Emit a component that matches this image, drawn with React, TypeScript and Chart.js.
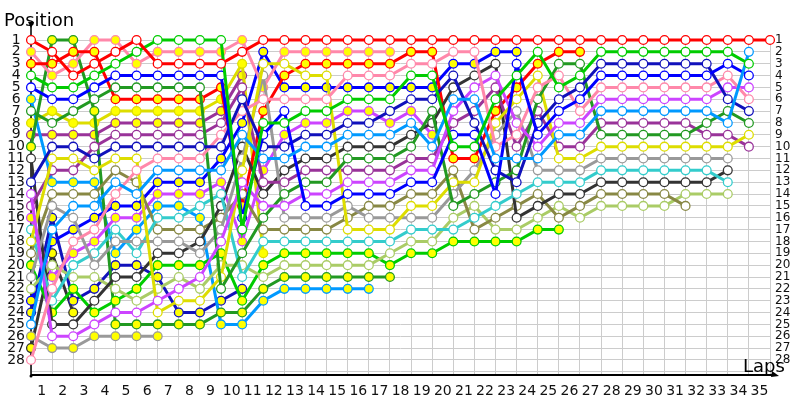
import React, { useEffect, useRef } from 'react';
import { Chart, registerables } from 'chart.js';

Chart.register(...registerables);

// Tick labels
const lapLabels = ['0','1','2','3','4','5','6','7','8','9','10','11','12','13','14','15','16','17','18','19','20','21','22','23','24','25','26','27','28','29','30','31','32','33','34','35'];
const positionTicks = [1,2,3,4,5,6,7,8,9,10,11,12,13,14,15,16,17,18,19,20,21,22,23,24,25,26,27,28];

// Position per lap (index = lap, from lap 0 = grid)
const redWhite = [1,2,4,3,2,1,3,3,3,3,2,1,1,1,1,1,1,1,1,1,1,1,1,1,1,1,1,1,1,1,1,1,1,1,1,1];
const pinkYellow = [2,4,3,1,1,3,2,2,2,2,1,5,2,2,2,2,2,2];
const redYellow = [3,3,2,2,6,6,6,6,6,5,15,7,4,3,3,3,3,3,2,2,11,11,7,5,3,2,2];
const greenWhite = [4,5,5,4,3,2,1,1,1,1,17,8,8,7,7,6,6,6,4,4,10,10,6,4,2,5,4,2,2,2,2,2,2,2,3];
const blueWhite = [5,6,6,5,4,4,4,4,4,4,16,9,7,15,15,14,14,14,13,13,9,9,14,3,9,7,6,4,4,4,4,4,4,3,4];
const darkGreenWhite = [7,8,7,6,5,5,5,5,5,22,19,16,14,13,13,11,11,11,10,7,15,14,13,12,6,3,3,9,9,9,9,9,8,7,8];
const darkBlueWhite = [13,10,10,11,10,10,10,10,10,10,6,10,10,9,9,8,8,7,6,6,4,8,12,13,8,6,5,3,3,3,3,3,3,6,7];
const purpleYellow = [9,9,9,9,8,8,8,8,8,7,4];
const purpleWhite = [15,12,12,10,9,9,9,9,9,8,5,13,13,12,12,12,12,12,11,11,8,7,5,10,7,10,10,8,8,8,8,8,9,9,10];
const violetWhite = [14,26,26,25,24,24,23,22,21,18,13,15,15,14,14,13,13,13,12,12,7,5,4,8,10,8,8,6,6,6,6,6,6,5,5];
const violetYellow = [16,21,19,18,16,16,14,14,14,13,18,12,9,8,8,7,7,8,7,9];
const lightBlueWhite = [25,17,15,15,13,14,12,12,12,12,9,11,11,10,10,9,9,9,8,10,6,6,11,11,11,9,9,7,7,7,7,7,7,8,2];
const lightBlueYellow = [6,13,13,13,19,17,15,15,16,25,25,23,22,22,22,22,22];
const pinkWhite = [28,22,18,17,14,12,11,11,11,9,7,6,6,6,6,4,4,4,3,3,2,2,10,9,5,4,7,5,5,5,5,5,5,4,6];
const yellowYellow = [8,7,8,8,7,7,7,7,7,6,3,19];
const yellowWhite = [18,11,11,12,11,11,24,23,23,21,12,3,3,4,4,17,17,17,15,15,13,13,8,6,4,11,11,10,10,10,10,10,10,10,9];
const blackWhite = [11,25,25,23,21,21,19,19,18,15,10,14,12,11,11,10,10,10,9,8,5,4,3,16,15,14,14,13,13,13,13,13,13,12];
const cyanWhite = [17,23,20,19,17,19,16,16,15,14,21,18,18,18,18,18,18,18,17,17,17,16,15,14,13,13,13,12,12,12,12,12,12,13];
const oliveWhite = [19,14,14,14,12,13,17,17,17,16,14,17,17,17,17,16,15,15,14,14,12,17,16,15,14,16,15,14,14,14,14,15];
const grayWhite = [21,15,16,20,18,18,18,18,19,17,11,4,16,16,16,15,16,16,16,16,14,12,9,7,12,12,12,11,11,11,11,11,11,11];
const greenYellow = [20,24,22,24,23,22,20,20,20,19,23,20,19,19,19,19,19,20,19,19,18,18,18,18,17,17];
const lightGreenWhite = [22,20,21,21,22,23,22,21,22,20,20,21,20,20,20,20,20,19,18,18,16,15,17,17,16,15,16,15,15,15,15,14,14,14];
const darkGreenYellow = [10,1,1,7,25,25,25,25,25,24,24,22,21,21,21,21,21,21];
const darkBlueYellow = [24,16,23,22,20,20,21,24,24,23,22];
const blueYellow = [23,18,17,16,15,15,13,13,13,11,8,2,5,5,5,5,5,5,5,5,3,3,2,2];
const grayYellow = [26,27,27,26,26,26,26];
const blackYellow = [27,19,24];

const RED = '#ff0000';
const PINK = '#ff88aa';
const GREEN = '#00cc00';
const DKGREEN = '#229922';
const BLUE = '#0000ff';
const DKBLUE = '#1111bb';
const YELLOW = '#dddd00';
const PURPLE = '#993399';
const VIOLET = '#cc44ff';
const LTBLUE = '#0099ff';
const CYAN = '#33cccc';
const GRAY = '#999999';
const BLACK = '#333333';
const OLIVE = '#888844';
const LTGREEN = '#aacc66';
const FILL_W = '#ffffff';
const FILL_Y = '#ffff00';

const series: [number[], string, string][] = [
  [redWhite, RED, FILL_W],
  [greenWhite, GREEN, FILL_W],
  [lightBlueWhite, LTBLUE, FILL_W],
  [blueWhite, BLUE, FILL_W],
  [darkBlueWhite, DKBLUE, FILL_W],
  [pinkWhite, PINK, FILL_W],
  [violetWhite, VIOLET, FILL_W],
  [darkGreenWhite, DKGREEN, FILL_W],
  [yellowWhite, YELLOW, FILL_W],
  [purpleWhite, PURPLE, FILL_W],
  [grayWhite, GRAY, FILL_W],
  [cyanWhite, CYAN, FILL_W],
  [blackWhite, BLACK, FILL_W],
  [oliveWhite, OLIVE, FILL_W],
  [lightGreenWhite, LTGREEN, FILL_W],
  [redYellow, RED, FILL_Y],
  [pinkYellow, PINK, FILL_Y],
  [blueYellow, BLUE, FILL_Y],
  [greenYellow, GREEN, FILL_Y],
  [violetYellow, VIOLET, FILL_Y],
  [darkGreenYellow, DKGREEN, FILL_Y],
  [lightBlueYellow, LTBLUE, FILL_Y],
  [yellowYellow, YELLOW, FILL_Y],
  [purpleYellow, PURPLE, FILL_Y],
  [darkBlueYellow, DKBLUE, FILL_Y],
  [grayYellow, GRAY, FILL_Y],
  [blackYellow, BLACK, FILL_Y],
];

const FONT = 'DejaVu Sans';

const decor = {
  id: 'decor',
  beforeDatasetsDraw(chart: any) {
    const ctx = chart.ctx;
    const { left, right, bottom } = chart.chartArea;
    ctx.save();
    ctx.strokeStyle = '#000';
    ctx.lineWidth = 1.5;
    ctx.beginPath();
    ctx.moveTo(left, 24);
    ctx.lineTo(left, bottom + 1);
    ctx.stroke();
    ctx.lineWidth = 2;
    ctx.beginPath();
    ctx.moveTo(left, bottom);
    ctx.lineTo(right + 6, bottom);
    ctx.stroke();
    ctx.fillStyle = '#000';
    ctx.beginPath();
    ctx.moveTo(left - 3, 22);
    ctx.lineTo(left + 3, 22);
    ctx.lineTo(left, 28);
    ctx.closePath();
    ctx.fill();
    ctx.beginPath();
    ctx.moveTo(right + 2, bottom - 4);
    ctx.lineTo(right + 9, bottom + 1);
    ctx.lineTo(right + 1, bottom + 2);
    ctx.closePath();
    ctx.fill();
    ctx.beginPath();
    ctx.arc(left, bottom + 1, 1.5, 0, Math.PI * 2);
    ctx.fill();
    ctx.restore();
  },
  afterDraw(chart: any) {
    const ctx = chart.ctx;
    ctx.save();
    ctx.fillStyle = '#000';
    ctx.font = `18px "${FONT}"`;
    ctx.textBaseline = 'alphabetic';
    ctx.textAlign = 'left';
    ctx.fillText('Position', 4, 26);
    ctx.fillText('Laps', 743, 372);
    ctx.restore();
  },
};

export default function App() {
  const ref = useRef<HTMLCanvasElement | null>(null);
  useEffect(() => {
    if (!ref.current) return;
    const datasets = series.map(([data, color, fill]) => ({
      data,
      borderColor: color,
      backgroundColor: fill,
      borderWidth: 3,
      pointRadius: 4.4,
      pointBorderWidth: 1.3,
      pointBorderColor: color,
      pointBackgroundColor: fill,
      tension: 0,
      clip: false as any,
      yAxisID: 'y',
      xAxisID: 'x',
    }));
    const chart = new Chart(ref.current, {
      type: 'line',
      data: { labels: lapLabels, datasets },
      plugins: [decor],
      options: {
        animation: false,
        responsive: false,
        devicePixelRatio: 1,
        layout: { padding: { top: 40, left: 0, right: 0, bottom: 0 } },
        plugins: { legend: { display: false }, tooltip: { enabled: false } },
        scales: {
          x: {
            type: 'category',
            offset: false,
            border: { display: false },
            grid: { color: '#cccccc', lineWidth: 1, drawTicks: false, offset: false },
            ticks: {
              autoSkip: false,
              maxRotation: 0,
              minRotation: 0,
              padding: 8,
              labelOffset: -10.5,
              color: '#111',
              font: { family: FONT, size: 14 },
              callback: (v: any, i: number) => (i === 0 ? '' : lapLabels[i]),
            },
            afterFit: (s: any) => { s.height = 25; },
          },
          y: {
            type: 'linear',
            position: 'left',
            reverse: true,
            min: 1,
            max: 29.27,
            border: { display: false },
            grid: { color: '#cccccc', lineWidth: 1, drawTicks: false },
            ticks: {
              stepSize: 1,
              autoSkip: false,
              includeBounds: false,
              crossAlign: 'center',
              padding: 6,
              color: '#111',
              font: { family: FONT, size: 14 },
              callback: (v: any) => (positionTicks.includes(v) ? String(v) : ''),
            },
            afterFit: (s: any) => { s.width = 31; },
          },
          y2: {
            type: 'linear',
            position: 'right',
            reverse: true,
            min: 1,
            max: 29.27,
            border: { display: false },
            grid: { display: false, drawTicks: false },
            ticks: {
              stepSize: 1,
              autoSkip: false,
              includeBounds: false,
              padding: 5,
              color: '#111',
              font: { family: FONT, size: 12 },
              callback: (v: any) => (positionTicks.includes(v) ? String(v) : ''),
            },
            afterFit: (s: any) => { s.width = 30; },
          },
        },
      },
    });
    return () => chart.destroy();
  }, []);
  return (
    <div style={{ position: 'absolute', left: 0, top: 0, width: 800, height: 400, background: '#fff' }}>
      <canvas ref={ref} width={800} height={400} style={{ width: 800, height: 400 }} />
    </div>
  );
}
